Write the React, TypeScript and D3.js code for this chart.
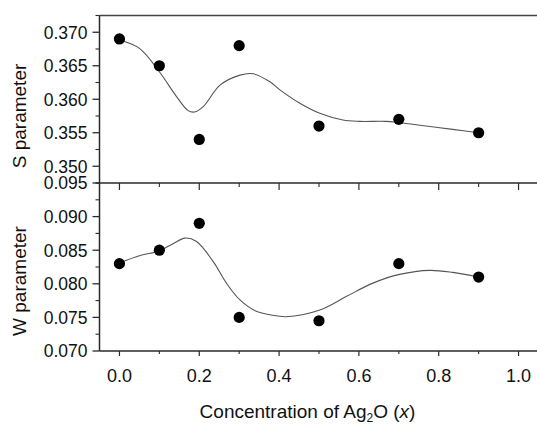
import React from "react";
import * as d3 from "d3";

const conc = [0.0, 0.1, 0.2, 0.3, 0.5, 0.7, 0.9];
const sValues = [0.369, 0.365, 0.354, 0.368, 0.356, 0.357, 0.355];
const wValues = [0.083, 0.085, 0.089, 0.075, 0.0745, 0.083, 0.081];
const sErr = [0.0006, 0.0006, 0.0006, 0.0006, 0.0006, 0.0006, 0.0006];
const wErr = [0.0004, 0.0004, 0.0004, 0.0004, 0.0004, 0.0004, 0.0004];

const sFitX = [0.0, 0.05, 0.1, 0.143, 0.172, 0.188, 0.21, 0.252, 0.302, 0.335, 0.377, 0.402, 0.452, 0.502, 0.56, 0.602, 0.668, 0.702, 0.768, 0.835, 0.9];
const sFitY = [0.3688, 0.3676, 0.3641, 0.3604, 0.3583, 0.3581, 0.3589, 0.3621, 0.3636, 0.3638, 0.3626, 0.3614, 0.3594, 0.3579, 0.3569, 0.3567, 0.3567, 0.3565, 0.356, 0.3555, 0.355];
const wFitX = [0.0, 0.052, 0.1, 0.135, 0.164, 0.193, 0.235, 0.268, 0.302, 0.343, 0.377, 0.418, 0.502, 0.568, 0.635, 0.702, 0.777, 0.835, 0.9];
const wFitY = [0.0831, 0.0842, 0.0849, 0.086, 0.0868, 0.0863, 0.0833, 0.0801, 0.0776, 0.0759, 0.0754, 0.0751, 0.0761, 0.0781, 0.0801, 0.0814, 0.082, 0.0817, 0.081];

const xMajor = [0.0, 0.2, 0.4, 0.6, 0.8, 1.0];
const xMinor = [0.1, 0.3, 0.5, 0.7, 0.9];
const sMajor = [0.35, 0.355, 0.36, 0.365, 0.37];
const sMinor = [0.3525, 0.3575, 0.3625, 0.3675, 0.3725];
const wMajor = [0.07, 0.075, 0.08, 0.085, 0.09, 0.095];
const wMinor = [0.0725, 0.0775, 0.0825, 0.0875, 0.0925];

const FONT = "'Liberation Sans', Arial, sans-serif";
const AXIS = "#2a2a2a";

export default function App() {
  const left = 99.5, right = 538.5, top = 15.5, mid = 183, bottom = 351;
  const x = d3.scaleLinear().domain([-0.05, 1.05]).range([left, right]);
  const yS = d3.scaleLinear().domain([0.3475, 0.3725]).range([mid, top]);
  const yW = d3.scaleLinear().domain([0.07, 0.095]).range([bottom, mid]);

  const curve = d3.curveCatmullRom.alpha(0.5);
  const sLine = d3.line<number>().x((_, i) => x(sFitX[i])).y((d) => yS(d)).curve(curve);
  const wLine = d3.line<number>().x((_, i) => x(wFitX[i])).y((d) => yW(d)).curve(curve);

  const markers = (vals: number[], errs: number[], y: d3.ScaleLinear<number, number>) =>
    conc.map((c, i) => (
      <g key={i}>
        <line x1={x(c)} x2={x(c)} y1={y(vals[i] - errs[i])} y2={y(vals[i] + errs[i])} stroke="#555" strokeWidth={1} />
        <line x1={x(c) - 3} x2={x(c) + 3} y1={y(vals[i] - errs[i])} y2={y(vals[i] - errs[i])} stroke="#555" strokeWidth={1} />
        <line x1={x(c) - 3} x2={x(c) + 3} y1={y(vals[i] + errs[i])} y2={y(vals[i] + errs[i])} stroke="#555" strokeWidth={1} />
        <circle cx={x(c)} cy={y(vals[i])} r={5.6} fill="#000" />
      </g>
    ));

  const yTicks = (major: number[], minor: number[], y: d3.ScaleLinear<number, number>, fmt: (n: number) => string) => (
    <g>
      {major.map((v) => (
        <g key={"M" + v}>
          <line x1={left - 7} x2={left} y1={y(v)} y2={y(v)} stroke={AXIS} strokeWidth={1.3} />
          <text x={left - 12} y={y(v)} dy="0.36em" textAnchor="end" fontSize={17.5} fontFamily={FONT} fill="#111">
            {fmt(v)}
          </text>
        </g>
      ))}
      {minor.map((v) => (
        <line key={"m" + v} x1={left - 4} x2={left} y1={y(v)} y2={y(v)} stroke={AXIS} strokeWidth={1.1} />
      ))}
    </g>
  );

  const f3 = d3.format(".3f");
  const f1 = d3.format(".1f");

  return (
    <svg width={537} height={424} style={{ position: "absolute", left: 0, top: 0, background: "#fff" }}>
      <rect x={0} y={0} width={537} height={424} fill="#fff" />
      <line x1={left} x2={537} y1={top} y2={top} stroke="#444" strokeWidth={1.5} />
      <line x1={left - 4} x2={537} y1={mid} y2={mid} stroke={AXIS} strokeWidth={1.5} />
      <line x1={left} x2={537} y1={bottom} y2={bottom} stroke={AXIS} strokeWidth={1.5} />
      <line x1={left} x2={left} y1={top} y2={bottom} stroke={AXIS} strokeWidth={1.5} />

      {xMajor.map((v) => (
        <line key={"mm" + v} x1={x(v)} x2={x(v)} y1={mid} y2={mid + 7} stroke={AXIS} strokeWidth={1.2} />
      ))}
      {xMinor.map((v) => (
        <line key={"mn" + v} x1={x(v)} x2={x(v)} y1={mid} y2={mid + 4} stroke={AXIS} strokeWidth={1.1} />
      ))}
      {xMajor.map((v) => (
        <g key={"bm" + v}>
          <line x1={x(v)} x2={x(v)} y1={bottom} y2={bottom + 5} stroke={AXIS} strokeWidth={1.2} />
          <text x={x(v)} y={381.5} textAnchor="middle" fontSize={18} fontFamily={FONT} fill="#111">
            {f1(v)}
          </text>
        </g>
      ))}
      {xMinor.map((v) => (
        <line key={"bn" + v} x1={x(v)} x2={x(v)} y1={bottom} y2={bottom + 3} stroke={AXIS} strokeWidth={1.1} />
      ))}

      {yTicks(sMajor, sMinor, yS, f3)}
      {yTicks(wMajor, wMinor, yW, f3)}

      <path d={sLine(sFitY) || ""} fill="none" stroke="#555" strokeWidth={1.1} />
      <path d={wLine(wFitY) || ""} fill="none" stroke="#555" strokeWidth={1.1} />

      {markers(sValues, sErr, yS)}
      {markers(wValues, wErr, yW)}

      <text transform="translate(25.5,116) rotate(-90)" textAnchor="middle" fontSize={19} fontFamily={FONT} fill="#111">
        S parameter
      </text>
      <text transform="translate(25.5,281) rotate(-90)" textAnchor="middle" fontSize={19} fontFamily={FONT} fill="#111">
        W parameter
      </text>
      <text x={307.5} y={418.3} textAnchor="middle" fontSize={19} fontFamily={FONT} fill="#111">
        Concentration of Ag
        <tspan fontSize={12} dy={4}>2</tspan>
        <tspan dy={-4}>O (</tspan>
        <tspan fontStyle="italic">x</tspan>
        <tspan>)</tspan>
      </text>
    </svg>
  );
}
